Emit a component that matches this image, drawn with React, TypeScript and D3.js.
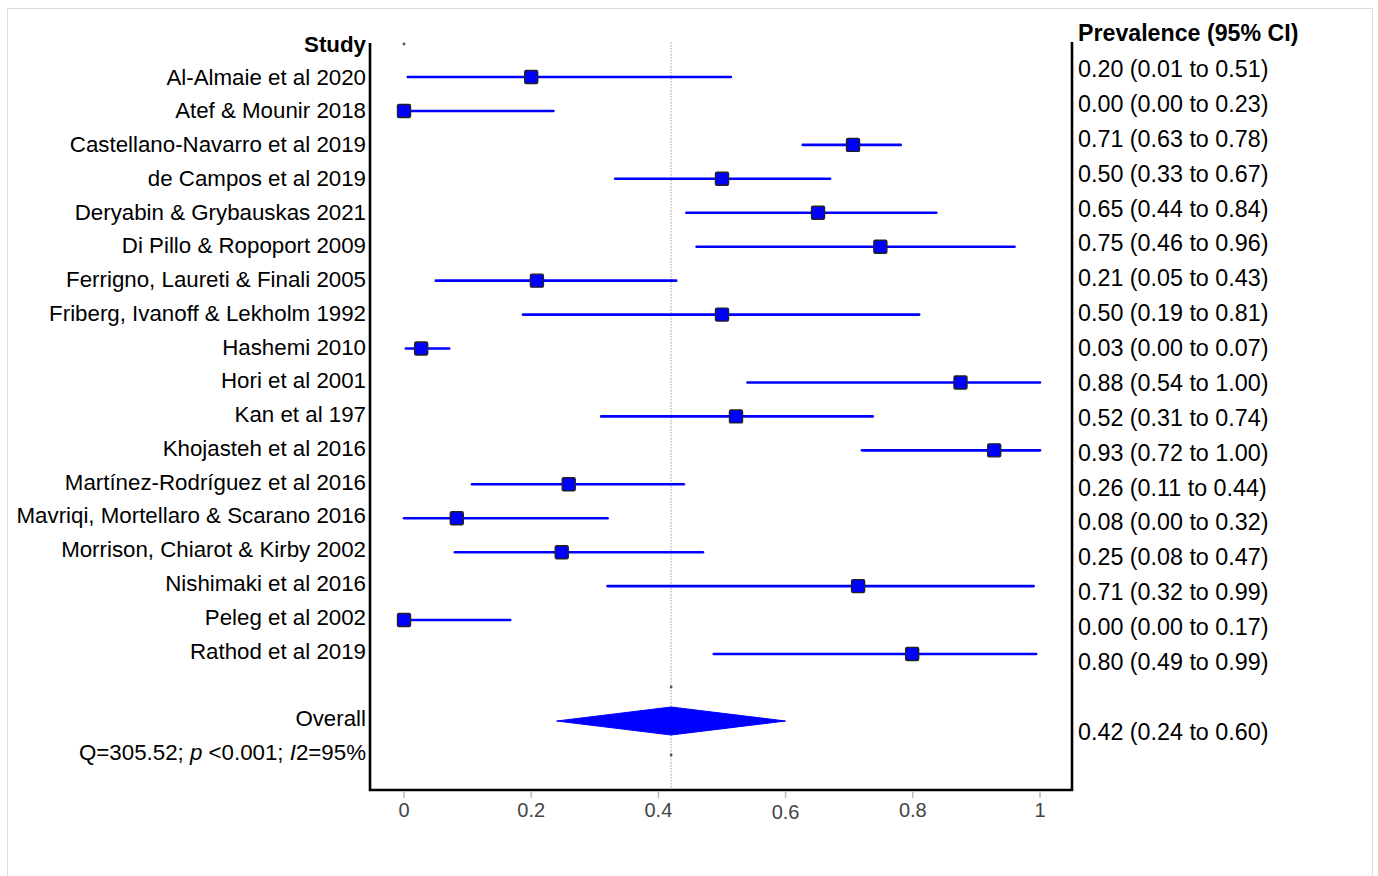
import React from "react";
import * as d3 from "d3";

const studies = [
  "Al-Almaie et al 2020",
  "Atef & Mounir 2018",
  "Castellano-Navarro et al 2019",
  "de Campos et al 2019",
  "Deryabin & Grybauskas 2021",
  "Di Pillo & Ropoport 2009",
  "Ferrigno, Laureti & Finali 2005",
  "Friberg, Ivanoff & Lekholm 1992",
  "Hashemi 2010",
  "Hori et al 2001",
  "Kan et al 197",
  "Khojasteh et al 2016",
  "Martínez-Rodríguez et al 2016",
  "Mavriqi, Mortellaro & Scarano 2016",
  "Morrison, Chiarot & Kirby 2002",
  "Nishimaki et al 2016",
  "Peleg et al 2002",
  "Rathod et al 2019",
];
const estimates = [0.2, 0.0, 0.706, 0.5, 0.651, 0.749, 0.209, 0.5, 0.027, 0.875, 0.522, 0.928, 0.259, 0.083, 0.248, 0.714, 0.0, 0.799];
const lower = [0.006, 0.0, 0.627, 0.332, 0.444, 0.46, 0.05, 0.187, 0.003, 0.54, 0.31, 0.72, 0.107, 0.0, 0.08, 0.32, 0.0, 0.487];
const upper = [0.514, 0.235, 0.781, 0.67, 0.837, 0.96, 0.428, 0.81, 0.071, 1.0, 0.737, 1.0, 0.44, 0.32, 0.47, 0.99, 0.167, 0.994];
const overall = { est: 0.42, lo: 0.24, hi: 0.6 };
const xTicks = [0, 0.2, 0.4, 0.6, 0.8, 1];

const fmt = d3.format(".2f");
const FONT = "'Liberation Sans', Arial, sans-serif";

export default function App() {
  const x = d3.scaleLinear().domain([0, 1]).range([404, 1040]);
  const yRow = d3.scaleLinear().domain([0, studies.length - 1]).range([77, 654]);
  const yLabel = d3.scaleLinear().domain([0, studies.length - 1]).range([77, 651]);
  const yText = d3.scaleLinear().domain([0, studies.length - 1]).range([69, 662]);
  const overallY = 721;
  const frameLeft = 370, frameRight = 1072, frameBottom = 790, frameTop = 42;
  const diamondPath = d3.line()([
    [x(overall.lo), overallY],
    [x(overall.est), overallY - 14],
    [x(overall.hi), overallY],
    [x(overall.est), overallY + 14],
  ]) + "Z";

  return (
    <svg
      width={1378}
      height={876}
      style={{ position: "absolute", left: 0, top: 0, background: "#fff" }}
      fontFamily={FONT}
    >
      <rect x={7.5} y={8.5} width={1365} height={890} fill="#fff" stroke="#dcdcdc" strokeWidth={1} />

      {/* reference line */}
      <line x1={x(overall.est)} x2={x(overall.est)} y1={frameTop} y2={frameBottom} stroke="#b0b0b0" strokeWidth={1.2} strokeDasharray="1.5,1.5" />

      {/* small dots */}
      <circle cx={x(0)} cy={44} r={1.4} fill="#555" />
      <circle cx={x(overall.est)} cy={687} r={1.4} fill="#555" />
      <circle cx={x(overall.est)} cy={755} r={1.4} fill="#555" />

      {/* CI lines and markers */}
      {studies.map((s, i) => (
        <g key={s}>
          <line x1={x(lower[i])} x2={x(upper[i])} y1={yRow(i)} y2={yRow(i)} stroke="#0000ff" strokeWidth={2.6} strokeLinecap="round" />
          <rect x={x(estimates[i]) - 6.5} y={yRow(i) - 6.5} width={13} height={13} rx={1.5} fill="#0000ff" stroke="#222" strokeWidth={1.4} />
        </g>
      ))}

      {/* diamond */}
      <path d={diamondPath} fill="#0000ff" stroke="#0000ff" strokeWidth={1} />

      {/* frame */}
      <path
        d={`M${frameLeft},${frameTop + 1} V${frameBottom} H${frameRight} V${frameTop}`}
        fill="none"
        stroke="#000"
        strokeWidth={2.6}
      />

      {/* axis ticks */}
      {xTicks.map((t) => (
        <g key={t}>
          <line x1={x(t)} x2={x(t)} y1={frameBottom + 2} y2={frameBottom + 8} stroke="#bbb" strokeWidth={1.5} />
          <text x={x(t)} y={t === 0.6 ? 819 : 816.5} textAnchor="middle" fontSize={20} fill="#444">
            {String(t)}
          </text>
        </g>
      ))}

      {/* left labels */}
      <text x={366} y={44} textAnchor="end" dominantBaseline="central" fontSize={22.3} fontWeight="bold" fill="#000">
        Study
      </text>
      {studies.map((s, i) => (
        <text key={s} x={366} y={yLabel(i)} textAnchor="end" dominantBaseline="central" fontSize={22.3} fill="#000">
          {s}
        </text>
      ))}
      <text x={366} y={718} textAnchor="end" dominantBaseline="central" fontSize={22.3} fill="#000">
        Overall
      </text>
      <text x={366} y={752} textAnchor="end" dominantBaseline="central" fontSize={22.3} fill="#000">
        Q=305.52; <tspan fontStyle="italic">p</tspan> &lt;0.001; <tspan fontStyle="italic">I</tspan>2=95%
      </text>

      {/* right column */}
      <text x={1078} y={33} dominantBaseline="central" fontSize={23.2} fontWeight="bold" fill="#000">
        Prevalence (95% CI)
      </text>
      {studies.map((s, i) => (
        <text key={s} x={1078} y={yText(i)} dominantBaseline="central" fontSize={23.3} fill="#000">
          {`${fmt(estimates[i])} (${fmt(lower[i])} to ${fmt(upper[i])})`}
        </text>
      ))}
      <text x={1078} y={732} dominantBaseline="central" fontSize={23.3} fill="#000">
        {`${fmt(overall.est)} (${fmt(overall.lo)} to ${fmt(overall.hi)})`}
      </text>
    </svg>
  );
}
